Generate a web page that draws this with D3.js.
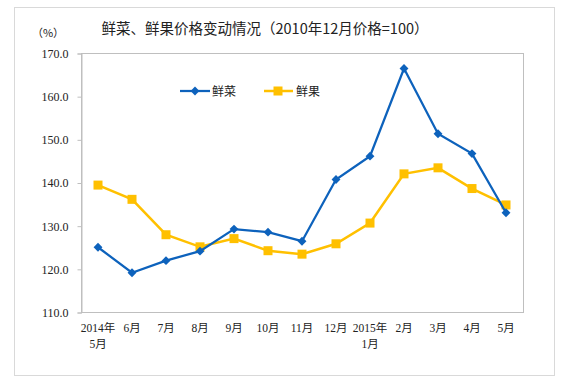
<!DOCTYPE html>
<html>
<head>
<meta charset="utf-8">
<script src="https://cdn.jsdelivr.net/npm/d3@7"></script>
<style>
body { margin: 0; background: #fff; }
text { font-family: "Liberation Serif", "Noto Sans CJK SC", serif; fill: #222; }
.cjk { font-family: "Noto Sans CJK SC", sans-serif; }
</style>
</head>
<body>
<div id="chart"></div>
<script>
// categories (second line after \n)
var months = ["2014年\n5月", "6月", "7月", "8月", "9月", "10月", "11月", "12月", "2015年\n1月", "2月", "3月", "4月", "5月"];
var veg = [125.0, 119.1, 121.9, 124.1, 129.2, 128.5, 126.4, 140.7, 146.1, 166.4, 151.3, 146.7, 133.0];
var fruit = [139.4, 136.1, 127.9, 125.1, 127.0, 124.2, 123.4, 125.8, 130.6, 142.0, 143.4, 138.6, 134.8];
var yTicks = [110, 120, 130, 140, 150, 160, 170];

var width = 563, height = 386;
var pLeft = 81, pRight = 523, pTop = 53, pBottom = 312;

var svg = d3.select("#chart").append("svg")
    .attr("width", width)
    .attr("height", height);

// outer frame
svg.append("rect")
    .attr("x", 14.5).attr("y", 7.5)
    .attr("width", 540).attr("height", 368)
    .attr("fill", "#fff")
    .attr("stroke", "#d9d9d9");

var x = d3.scaleBand().domain(months).range([pLeft, pRight]);
var y = d3.scaleLinear().domain([110, 170]).range([pBottom, pTop]);

// plot frame
svg.append("rect")
    .attr("x", pLeft + 0.5).attr("y", pTop + 0.5)
    .attr("width", pRight - pLeft).attr("height", pBottom - pTop)
    .attr("fill", "none")
    .attr("stroke", "#bfbfbf");

// y axis
var yAxis = svg.append("g")
    .attr("transform", "translate(" + (pLeft + 0.5) + ",0.5)")
    .call(d3.axisLeft(y).tickValues(yTicks).tickSize(4).tickPadding(9).tickFormat(d3.format(".1f")));
yAxis.select(".domain").attr("stroke", "#bfbfbf");
yAxis.selectAll(".tick line").attr("stroke", "#bfbfbf");
yAxis.selectAll("text").style("font-size", "12px").attr("fill", "#222");

// x labels
var xl = svg.append("g");
months.forEach(function(m){
    var lines = m.split("\n");
    var t = xl.append("text")
        .attr("x", x(m) + x.bandwidth() / 2)
        .attr("y", 332)
        .attr("text-anchor", "middle")
        .style("font-size", "11.5px");
    lines.forEach(function(s, i){
        t.append("tspan")
            .attr("x", x(m) + x.bandwidth() / 2)
            .attr("dy", i === 0 ? 0 : 16)
            .text(s);
    });
});

var cx = function(d, i){ return x(months[i]) + x.bandwidth() / 2; };
var line = d3.line().x(cx).y(function(d){ return y(d); });

var blue = "#0d62bc", yellow = "#ffc000";

// fruit first so veg line sits on top
svg.append("path").datum(fruit)
    .attr("d", line).attr("fill", "none")
    .attr("stroke", yellow).attr("stroke-width", 2.5);
svg.selectAll(".fm").data(fruit).enter().append("rect")
    .attr("x", function(d, i){ return cx(d, i) - 4.5; })
    .attr("y", function(d){ return y(d) - 4.5; })
    .attr("width", 9).attr("height", 9)
    .attr("fill", yellow);

svg.append("path").datum(veg)
    .attr("d", line).attr("fill", "none")
    .attr("stroke", blue).attr("stroke-width", 2.25);
var diamond = d3.symbol().type(d3.symbolDiamond2).size(50);
svg.selectAll(".vm").data(veg).enter().append("path")
    .attr("d", diamond)
    .attr("transform", function(d, i){ return "translate(" + cx(d, i) + "," + y(d) + ")"; })
    .attr("fill", blue);

// legend
var lg = svg.append("g");
lg.append("line").attr("x1", 180).attr("x2", 210).attr("y1", 91).attr("y2", 91)
    .attr("stroke", blue).attr("stroke-width", 2.25);
lg.append("path").attr("d", diamond).attr("transform", "translate(195,91)").attr("fill", blue);
lg.append("text").attr("class", "cjk").attr("x", 212).attr("y", 95.5)
    .style("font-size", "12px").text("鲜菜");
lg.append("line").attr("x1", 264).attr("x2", 293).attr("y1", 91).attr("y2", 91)
    .attr("stroke", yellow).attr("stroke-width", 2.5);
lg.append("rect").attr("x", 273.5).attr("y", 86.5).attr("width", 9).attr("height", 9).attr("fill", yellow);
lg.append("text").attr("class", "cjk").attr("x", 296).attr("y", 95.5)
    .style("font-size", "12px").text("鲜果");

// title and unit
svg.append("text").attr("class", "cjk")
    .attr("x", 265).attr("y", 34)
    .attr("text-anchor", "middle")
    .style("font-size", "14.5px")
    .text("鲜菜、鲜果价格变动情况（2010年12月价格=100）");
svg.append("text").attr("class", "cjk")
    .attr("x", 48).attr("y", 37)
    .attr("text-anchor", "middle")
    .style("font-size", "11px")
    .text("（%）");
</script>
</body>
</html>
